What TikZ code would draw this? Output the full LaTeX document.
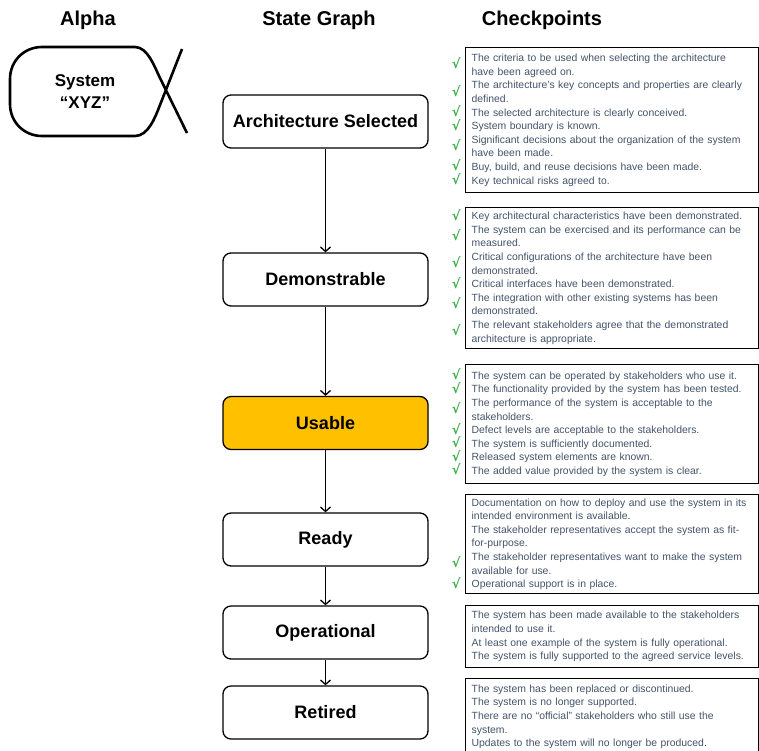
\documentclass[tikz,border=0pt]{standalone}
\usepackage{fontspec}
\setmainfont{Liberation Sans}
\newfontfamily\chkfont{DejaVu Sans}
\usepackage{tikz}
\usetikzlibrary{arrows.meta}
\definecolor{gold}{RGB}{255,192,0}
\definecolor{slate}{RGB}{68,84,106}
\definecolor{tick}{RGB}{60,175,75}
\hyphenpenalty=10000
\newcommand{\ok}{\leavevmode\llap{\raisebox{-0.5pt}[0pt][0pt]{\textcolor{tick}{\chkfont\bfseries\fontsize{13}{13}\selectfont √}}\hspace{11pt}}}
\newcommand{\okk}{\leavevmode\llap{\raisebox{-7.3pt}[0pt][0pt]{\textcolor{tick}{\chkfont\bfseries\fontsize{13}{13}\selectfont √}}\hspace{11pt}}}
\tikzstyle{title} = [font=\fontsize{20}{24}\selectfont\bfseries]
\tikzstyle{state} = [draw, line width=1.3pt, rounded corners=8pt, minimum width=205pt, minimum height=53pt, fill=white, font=\fontsize{18}{22}\selectfont\bfseries]
\tikzstyle{current} = [state, fill=gold]
\tikzstyle{cplist} = [draw, line width=1.3pt, anchor=north west, text width=281pt, inner xsep=6pt, align=left, text=slate, font=\fontsize{10.4}{13.6}\selectfont]
\tikzstyle{flow} = [-{Straight Barb[length=4.5pt,width=10pt]}, line width=1.3pt]

\begin{document}
\begin{tikzpicture}[x=1pt, y=-1pt]
	\path[use as bounding box, fill=white] (0,0) rectangle (759,750);

	% column titles
	\node[title] (hdalpha) at (88,20) {Alpha};
	\node[title] (hdstate) at (319,20) {State Graph};
	\node[title] (hdcheck) at (542,20) {Checkpoints};

	% the alpha card
	\draw[line width=2.6pt] (182,49) -- (160,105)
		.. controls (155,118) and (148,136) .. (135,136) -- (42,136)
		.. controls (24,136) and (10,122) .. (10,104) -- (10,79)
		.. controls (10,61) and (24,47) .. (42,47) -- (135,47)
		.. controls (148,47) and (155,68) .. (160,78) -- (187,133);
	\node[align=center, font=\fontsize{17}{22}\selectfont\bfseries] (system) at (85,92) {System\\“XYZ”};

	% states
	\node[state] (arch) at (325.5,121.5) {Architecture Selected};
	\node[state] (demo) at (325.5,279.5) {Demonstrable};
	\node[current] (usable) at (325.5,423) {Usable};
	\node[state] (ready) at (325.5,539.5) {Ready};
	\node[state] (oper) at (325.5,632.5) {Operational};
	\node[state] (retired) at (325.5,712.5) {Retired};

	\draw[flow] (arch) -- (demo);
	\draw[flow] (demo) -- (usable);
	\draw[flow] (usable) -- (ready);
	\draw[flow] (ready) -- (oper);
	\draw[flow] (oper) -- (retired);

	% checkpoints
	\node[cplist, minimum height=145pt] (cparch) at (465,47) {%
		\okk The criteria to be used when selecting the architecture\\
		have been agreed on.\\
		\okk The architecture’s key concepts and properties are clearly\\
		defined.\\
		\ok The selected architecture is clearly conceived.\\
		\ok System boundary is known.\\
		\okk Significant decisions about the organization of the system\\
		have been made.\\
		\ok Buy, build, and reuse decisions have been made.\\
		\ok Key technical risks agreed to.};
	\node[cplist, minimum height=141pt] (cpdemo) at (465,207) {%
		\ok Key architectural characteristics have been demonstrated.\\
		\okk The system can be exercised and its performance can be\\
		measured.\\
		\okk Critical configurations of the architecture have been\\
		demonstrated.\\
		\ok Critical interfaces have been demonstrated.\\
		\okk The integration with other existing systems has been\\
		demonstrated.\\
		\okk The relevant stakeholders agree that the demonstrated\\
		architecture is appropriate.};
	\node[cplist, minimum height=119pt] (cpusable) at (465,364) {%
		\ok The system can be operated by stakeholders who use it.\\
		\ok The functionality provided by the system has been tested.\\
		\okk The performance of the system is acceptable to the\\
		stakeholders.\\
		\ok Defect levels are acceptable to the stakeholders.\\
		\ok The system is sufficiently documented.\\
		\ok Released system elements are known.\\
		\ok The added value provided by the system is clear.};
	\node[cplist, minimum height=99pt] (cpready) at (465,494) {%
		Documentation on how to deploy and use the system in its\\
		intended environment is available.\\
		The stakeholder representatives accept the system as fit-\\
		for-purpose.\\
		\okk The stakeholder representatives want to make the system\\
		available for use.\\
		\ok Operational support is in place.};
	\node[cplist, minimum height=62pt] (cpoper) at (465,605) {%
		The system has been made available to the stakeholders\\
		intended to use it.\\
		At least one example of the system is fully operational.\\
		The system is fully supported to the agreed service levels.};
	\node[cplist, inner ysep=6pt] (cpretired) at (465,678) {%
		The system has been replaced or discontinued.\\
		The system is no longer supported.\\
		There are no “official” stakeholders who still use the\\
		system.\\
		Updates to the system will no longer be produced.};
\end{tikzpicture}
\end{document}
